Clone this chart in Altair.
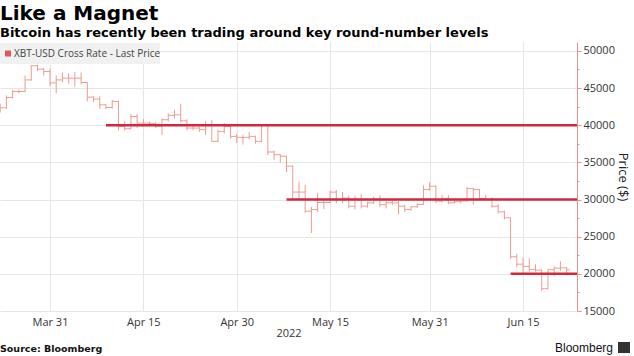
import altair as alt
import pandas as pd

# ---------------- data ----------------
first_date = "2022-03-23"
first_open = 42100
closes = [
    42350, 43730, 44540, 44540, 46100, 48000, 47540, 47230, 45700,
    46100, 46330, 46330, 46330, 45750, 43790, 43520, 42750, 42390, 43200,
    39840, 39530, 41180, 40290, 40290, 40250, 39900, 40740, 41320, 41400,
    40600, 39620, 39620, 39400, 40070, 37830, 39170, 39840, 38500, 38370,
    38370, 38500, 37830, 39970, 36400, 36040, 35830, 34490, 31000, 31000,
    28430, 28660, 29600, 29600, 31000, 30000, 30200, 29100, 30000, 29100,
    29550, 30000, 29300, 29550, 29550, 29100, 28660, 29020, 29330, 31340, 31790,
    29780, 30100, 29550, 29700, 29800, 31480, 31340, 30130, 30000, 29100,
    28340, 27550, 22300, 21300, 21000, 20600, 20500, 18000, 20550, 20770, 20800, 20550,
]
highs = [
    42900, 44000, 44800, 44800, 46700, 48100, 48150, 47700, 47600,
    46700, 47100, 47000, 47200, 47100, 45800, 43900, 43900, 42800, 43400,
    43300, 40600, 41500, 41500, 40800, 40500, 40400, 40900, 41600, 42100,
    42900, 40800, 39900, 39800, 40600, 40700, 39400, 40300, 39900, 38800,
    38700, 39100, 38600, 40000, 40000, 36600, 36100, 35900, 34600, 32400,
    32000, 29000, 30900, 30000, 31200, 31300, 31000, 30500, 30500, 30700,
    29700, 30400, 30600, 29800, 30100, 29800, 29300, 29100, 29500, 31900, 32300,
    31900, 30600, 30600, 29900, 30000, 31700, 31600, 31400, 30600, 30300,
    29400, 28500, 27600, 22700, 22200, 22100, 21300, 20600, 20700, 21000, 21700, 20900,
]
lows = [
    41700, 42200, 43600, 44300, 44450, 46000, 47300, 46700, 45300,
    44300, 45800, 45600, 45200, 45500, 43200, 43100, 42200, 42200, 42200,
    39300, 39300, 39400, 39600, 39800, 39900, 39600, 38700, 40500, 40900,
    40400, 39300, 39300, 39100, 38700, 37800, 37700, 38900, 38200, 37600,
    37400, 38100, 37500, 37700, 36000, 35300, 35000, 33700, 30000, 29900,
    28200, 25500, 28300, 28700, 29500, 29500, 29500, 28800, 28700, 28800,
    28900, 29400, 29000, 28800, 29300, 28000, 28300, 28500, 28900, 29300, 31200,
    29500, 29600, 29400, 29500, 29500, 29700, 29300, 30000, 29900, 28900,
    28100, 27300, 22000, 20900, 20100, 20300, 20300, 17700, 17900, 19700, 20400, 19800,
]
opens = [first_open] + closes[:-1]
dates = [d.strftime("%Y-%m-%dT00:00:00")
         for d in pd.date_range(first_date, periods=len(closes), freq="D")]

levels = [40000, 30000, 20000]
level_starts = ["2022-04-09T00:00:00", "2022-05-08T00:00:00", "2022-06-13T00:00:00"]
level_end = "2022-06-26T00:00:00"

x_tick_dates = [(3, 31), (4, 15), (4, 30), (5, 15), (5, 31), (6, 15)]
y_ticks = list(range(15000, 50001, 2500))

title_text = "Like a Magnet"
subtitle_text = "Bitcoin has recently been trading around key round-number levels"
legend_text = "XBT-USD Cross Rate - Last Price"
source_text = "Source: Bloomberg"
brand_text = "Bloomberg"

# ---------------- styling ----------------
BAR = "#ee9c90"
LEVEL = "#d2283f"
GRID = "#e6e6e6"
AXIS_RED = "#ee8f8f"
TXT = "#333333"
FONT = "Open Sans"

W, H = 577, 269

df = pd.DataFrame({"date": dates, "open": opens, "high": highs,
                   "low": lows, "close": closes})
lv = pd.DataFrame({"level": levels, "start": level_starts,
                   "end": [level_end] * len(levels)})

x_scale = alt.Scale(domain=[alt.DateTime(year=2022, month=3, date=22, hours=23, minutes=20),
                            alt.DateTime(year=2022, month=6, date=23, hours=16)])
y_scale = alt.Scale(domain=[15000, 51200], nice=False, zero=False)

x_axis = alt.Axis(
    values=[alt.DateTime(year=2022, month=m, date=d) for m, d in x_tick_dates],
    format="%b %d", labelFont=FONT, labelFontSize=11, labelColor=TXT,
    labelPadding=5, ticks=False, domain=False, grid=True, gridColor=GRID,
    title="2022", titleFont=FONT, titleFontSize=11, titleFontWeight="normal",
    titleColor=TXT, titlePadding=0,
)
y_axis = alt.Axis(
    orient="right", values=y_ticks, format="d",
    labelExpr="datum.value % 5000 === 0 ? datum.label : ''",
    labelFont=FONT, labelFontSize=11, labelColor=TXT, labelPadding=2,
    domain=True, domainColor=AXIS_RED, tickColor=AXIS_RED,
    tickSize={"condition": {"test": "datum.value % 5000 === 0", "value": 4}, "value": 2},
    grid=True, gridColor=GRID,
    gridOpacity={"condition": {"test": "datum.value % 5000 === 0", "value": 1}, "value": 0},
    title="Price ($)", titleFont=FONT, titleFontSize=13, titleFontWeight="normal",
    titleColor="#222222", titlePadding=1,
)

base = alt.Chart(df).transform_calculate(
    xl="time(toDate(datum.date)) - 43200000",
    xr="time(toDate(datum.date)) + 43200000",
)

hl = base.mark_rule(color=BAR, strokeWidth=1, clip=True).encode(
    x=alt.X("date:T", scale=x_scale, axis=x_axis),
    y=alt.Y("low:Q", scale=y_scale, axis=y_axis),
    y2="high:Q",
)
op = base.mark_rule(color=BAR, strokeWidth=1, clip=True).encode(
    x=alt.X("xl:T", scale=x_scale, axis=x_axis),
    x2="date:T",
    y=alt.Y("open:Q", scale=y_scale, axis=y_axis),
)
cl = base.mark_rule(color=BAR, strokeWidth=1, clip=True).encode(
    x=alt.X("date:T", scale=x_scale, axis=x_axis),
    x2="xr:T",
    y=alt.Y("close:Q", scale=y_scale, axis=y_axis),
)
lines = alt.Chart(lv).mark_rule(color=LEVEL, strokeWidth=2.5, clip=True).encode(
    x=alt.X("start:T", scale=x_scale, axis=x_axis),
    x2="end:T",
    y=alt.Y("level:Q", scale=y_scale, axis=y_axis),
)

one = pd.DataFrame({"legend": [legend_text], "source": [source_text], "brand": [brand_text]})
leg_box = alt.Chart(one).mark_rect(fill="#f1f1f1").encode(
    x=alt.value(0), x2=alt.value(160), y=alt.value(1), y2=alt.value(22))
leg_sw = alt.Chart(one).mark_rect(fill="#e2545c").encode(
    x=alt.value(5), x2=alt.value(11), y=alt.value(8.5), y2=alt.value(14.5))
leg_tx = alt.Chart(one).mark_text(align="left", baseline="middle", font=FONT,
                                  fontSize=10, color="#444444").encode(
    x=alt.value(14), y=alt.value(11.5), text="legend:N")
src = alt.Chart(one).mark_text(align="left", baseline="middle", font="DejaVu Sans",
                               fontSize=9.5, fontWeight="bold", color="#111111").encode(
    x=alt.value(0), y=alt.value(307), text="source:N")
brand = alt.Chart(one).mark_text(align="right", baseline="middle", font="Liberation Sans",
                                 fontSize=12, color="#111111").encode(
    x=alt.value(613), y=alt.value(306), text="brand:N")
icon = alt.Chart(one).mark_rect(fill="#333333").encode(
    x=alt.value(618), x2=alt.value(630), y=alt.value(300), y2=alt.value(311))

chart = alt.layer(hl, op, cl, lines, leg_box, leg_sw, leg_tx, src, brand, icon).properties(
    width=W, height=H,
    title=alt.TitleParams(
        text=title_text, subtitle=subtitle_text, anchor="start", frame="group",
        font="DejaVu Sans", fontSize=20, fontWeight="bold", color="#000000",
        subtitleFont="DejaVu Sans", subtitleFontSize=13, subtitleFontWeight="bold",
        subtitleColor="#000000", subtitlePadding=3, offset=2,
    ),
    padding={"left": 0, "top": 42, "right": 57, "bottom": 45},
    autosize=alt.AutoSizeParams(type="none"),
).configure_view(stroke=None)

chart.save("out.html", embed_options={"renderer": "svg", "actions": False})
